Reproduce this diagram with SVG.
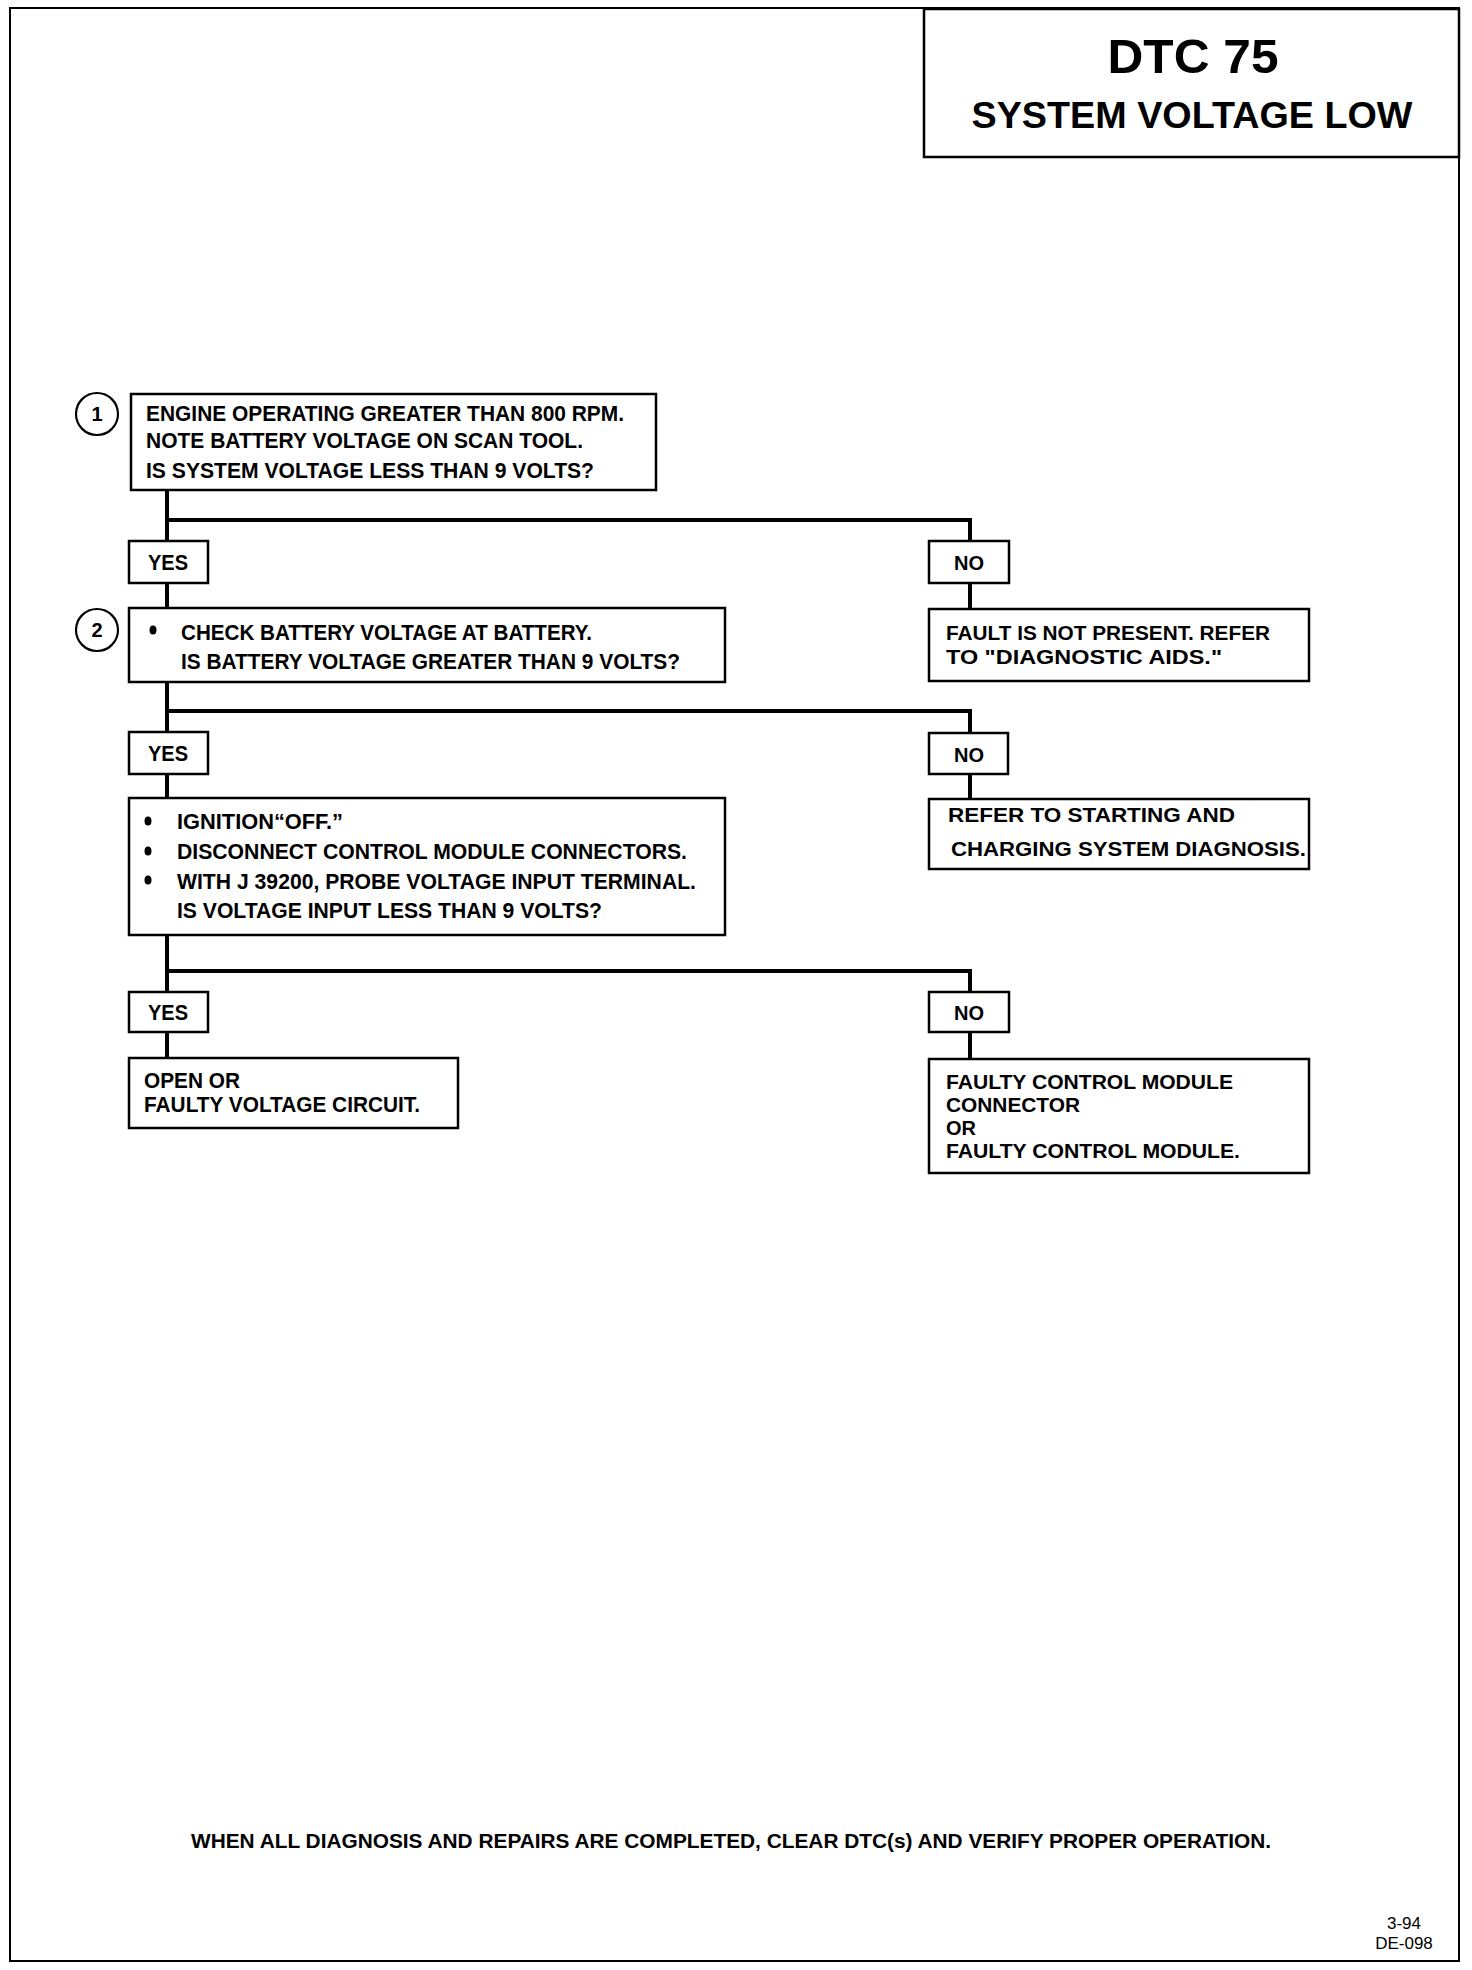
<svg xmlns="http://www.w3.org/2000/svg" width="1472" height="1970" viewBox="0 0 1472 1970">
<style>
.bg{fill:#fff}
.page{fill:none;stroke:#000;stroke-width:2}
.box{fill:#fff;stroke:#000;stroke-width:2.5}
.lbl{fill:#fff;stroke:#000;stroke-width:2.5}
.conn{fill:none;stroke:#000;stroke-width:4}
.t{font-family:"Liberation Sans",Arial,sans-serif;font-weight:bold;fill:#000}
.c{font-size:22.5px}
.r{font-size:20px}
.n{font-size:20px}
.circ{fill:#fff;stroke:#000;stroke-width:2.2}
.bul{fill:#000}
</style>
<rect class="bg" x="0" y="0" width="1472" height="1970"/>
<rect class="page" x="10" y="8" width="1449" height="1953"/>

<g id="title">
<rect class="box" x="924" y="9" width="535" height="148"/>
<text class="t" x="1193" y="73" font-size="49" text-anchor="middle" textLength="171" lengthAdjust="spacingAndGlyphs">DTC 75</text>
<text class="t" x="1192" y="128" font-size="37" text-anchor="middle" textLength="441" lengthAdjust="spacingAndGlyphs">SYSTEM VOLTAGE LOW</text>
</g>

<g id="connectors">
<path class="conn" d="M167 490 V541 M167 583 V608"/>
<path class="conn" d="M167 520 H970 V541 M970 583 V609"/>
<path class="conn" d="M167 682 V732 M167 774 V798"/>
<path class="conn" d="M167 711 H970 V733 M970 774 V799"/>
<path class="conn" d="M167 935 V992 M167 1032 V1058"/>
<path class="conn" d="M167 971 H970 V992 M970 1032 V1059"/>
</g>

<g id="step1">
<circle class="circ" cx="97" cy="414" r="21"/>
<text class="t n" x="97" y="421" text-anchor="middle">1</text>
<rect class="box" x="131" y="394" width="525" height="96"/>
<text class="t c" x="146" y="421" textLength="478" lengthAdjust="spacingAndGlyphs">ENGINE OPERATING GREATER THAN 800 RPM.</text>
<text class="t c" x="146" y="448" textLength="437" lengthAdjust="spacingAndGlyphs">NOTE BATTERY VOLTAGE ON SCAN TOOL.</text>
<text class="t c" x="146" y="478" textLength="448" lengthAdjust="spacingAndGlyphs">IS SYSTEM VOLTAGE LESS THAN 9 VOLTS?</text>
</g>

<g id="yes1">
<rect class="lbl" x="129" y="541" width="79" height="42"/>
<text class="t c" x="168" y="570" text-anchor="middle" textLength="40" lengthAdjust="spacingAndGlyphs">YES</text>
</g>
<g id="no1">
<rect class="lbl" x="929" y="541" width="80" height="42"/>
<text class="t r" x="969" y="570" text-anchor="middle">NO</text>
</g>

<g id="step2">
<circle class="circ" cx="97" cy="630" r="21"/>
<text class="t n" x="97" y="637" text-anchor="middle">2</text>
<rect class="box" x="129" y="608" width="596" height="74"/>
<ellipse class="bul" cx="153" cy="630" rx="3.5" ry="4.5"/>
<text class="t c" x="181" y="640" textLength="411" lengthAdjust="spacingAndGlyphs">CHECK BATTERY VOLTAGE AT BATTERY.</text>
<text class="t c" x="181" y="669" textLength="499" lengthAdjust="spacingAndGlyphs">IS BATTERY VOLTAGE GREATER THAN 9 VOLTS?</text>
</g>

<g id="result-no1">
<rect class="box" x="929" y="609" width="380" height="72"/>
<text class="t r" x="946" y="640" textLength="324" lengthAdjust="spacingAndGlyphs">FAULT IS NOT PRESENT. REFER</text>
<text class="t r" x="946" y="664" textLength="276" lengthAdjust="spacingAndGlyphs">TO "DIAGNOSTIC AIDS."</text>
</g>

<g id="yes2">
<rect class="lbl" x="129" y="732" width="79" height="42"/>
<text class="t c" x="168" y="761" text-anchor="middle" textLength="40" lengthAdjust="spacingAndGlyphs">YES</text>
</g>
<g id="no2">
<rect class="lbl" x="929" y="733" width="79" height="41"/>
<text class="t r" x="969" y="762" text-anchor="middle">NO</text>
</g>

<g id="step3">
<rect class="box" x="129" y="798" width="596" height="137"/>
<ellipse class="bul" cx="148" cy="821" rx="3.5" ry="4.5"/>
<text class="t c" x="177" y="829" textLength="166" lengthAdjust="spacingAndGlyphs">IGNITION“OFF.”</text>
<ellipse class="bul" cx="148" cy="851" rx="3.5" ry="4.5"/>
<text class="t c" x="177" y="859" textLength="510" lengthAdjust="spacingAndGlyphs">DISCONNECT CONTROL MODULE CONNECTORS.</text>
<ellipse class="bul" cx="148" cy="880" rx="3.5" ry="4.5"/>
<text class="t c" x="177" y="889" textLength="519" lengthAdjust="spacingAndGlyphs">WITH J 39200, PROBE VOLTAGE INPUT TERMINAL.</text>
<text class="t c" x="177" y="918" textLength="425" lengthAdjust="spacingAndGlyphs">IS VOLTAGE INPUT LESS THAN 9 VOLTS?</text>
</g>

<g id="result-no2">
<rect class="box" x="929" y="799" width="380" height="70"/>
<text class="t r" x="948" y="822" textLength="287" lengthAdjust="spacingAndGlyphs">REFER TO STARTING AND</text>
<text class="t r" x="951" y="856" textLength="355" lengthAdjust="spacingAndGlyphs">CHARGING SYSTEM DIAGNOSIS.</text>
</g>

<g id="yes3">
<rect class="lbl" x="129" y="992" width="79" height="40"/>
<text class="t c" x="168" y="1020" text-anchor="middle" textLength="40" lengthAdjust="spacingAndGlyphs">YES</text>
</g>
<g id="no3">
<rect class="lbl" x="929" y="992" width="80" height="40"/>
<text class="t r" x="969" y="1020" text-anchor="middle">NO</text>
</g>

<g id="result-yes3">
<rect class="box" x="129" y="1058" width="329" height="70"/>
<text class="t c" x="144" y="1088" textLength="96" lengthAdjust="spacingAndGlyphs">OPEN OR</text>
<text class="t c" x="144" y="1112" textLength="276" lengthAdjust="spacingAndGlyphs">FAULTY VOLTAGE CIRCUIT.</text>
</g>

<g id="result-no3">
<rect class="box" x="929" y="1059" width="380" height="114"/>
<text class="t r" x="946" y="1089" textLength="287" lengthAdjust="spacingAndGlyphs">FAULTY CONTROL MODULE</text>
<text class="t r" x="946" y="1112" textLength="134" lengthAdjust="spacingAndGlyphs">CONNECTOR</text>
<text class="t r" x="946" y="1135">OR</text>
<text class="t r" x="946" y="1158" textLength="294" lengthAdjust="spacingAndGlyphs">FAULTY CONTROL MODULE.</text>
</g>

<g id="footer">
<text class="t" x="191" y="1848" font-size="21" textLength="1080" lengthAdjust="spacingAndGlyphs">WHEN ALL DIAGNOSIS AND REPAIRS ARE COMPLETED, CLEAR DTC(s) AND VERIFY PROPER OPERATION.</text>
<text x="1404" y="1929" font-family="Liberation Sans, Arial, sans-serif" font-size="17" text-anchor="middle">3-94</text>
<text x="1404" y="1949" font-family="Liberation Sans, Arial, sans-serif" font-size="17" text-anchor="middle">DE-098</text>
</g>
</svg>
